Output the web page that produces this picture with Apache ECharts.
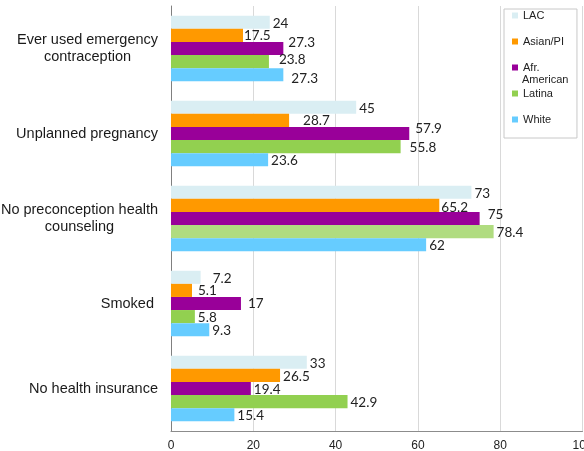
<!DOCTYPE html>
<html>
<head>
<meta charset="utf-8">
<script src="https://cdn.jsdelivr.net/npm/echarts@6/dist/echarts.min.js"></script>
<style>html,body{margin:0;padding:0;background:#fff;}#c{width:584px;height:451px;}</style>
</head>
<body>
<div id="c"></div>
<script>
const categories = ['Ever used emergency contraception', 'Unplanned pregnancy', 'No preconception health counseling', 'Smoked', 'No health insurance'];
const seriesNames = ['LAC', 'Asian/PI', 'Afr. American', 'Latina', 'White'];
const lac = [24, 45, 73, 7.2, 33];
const asianPI = [17.5, 28.7, 65.2, 5.1, 26.5];
const afrAmerican = [27.3, 57.9, 75, 17, 19.4];
const latina = [23.8, 55.8, 78.4, 5.8, 42.9];
const white = [27.3, 23.6, 62, 9.3, 15.4];
const xTicks = [0, 20, 40, 60, 80, 100];

const colors = ['#DAEEF3', '#FF9900', '#990099', '#92D050', '#66CCFF'];
const latinaAltColor = '#B0DC80';
// label nudges [dx, dy] per series index / category index (style only)
const defaultNudge = [0, 1];
const nudges = {
  '1-0': [-2, 0], '2-0': [2, -6], '3-0': [7, -2], '4-0': [5, 4],
  '1-1': [11, 0], '2-1': [3, -5], '3-1': [6, 1],
  '1-2': [-1, 2], '2-2': [5, -4],
  '0-3': [9, 1], '1-3': [3, 0], '2-3': [4, 0]
};

const valueSets = [lac, asianPI, afrAmerican, latina, white];
const series = valueSets.map((vals, si) => ({
  name: seriesNames[si],
  type: 'bar',
  barGap: '0%',
  barCategoryGap: '23%',
  itemStyle: { color: colors[si] },
  data: vals.map((v, ci) => {
    const d = { value: v };
    if (si === 3 && ci === 2) d.itemStyle = { color: latinaAltColor };
    d.label = { offset: nudges[si + '-' + ci] || defaultNudge };
    return d;
  }),
  label: {
    show: true, position: 'right', distance: 3,
    fontFamily: 'Lato', fontSize: 13.5, color: '#222'
  }
}));

const chart = echarts.init(document.getElementById('c'));
chart.setOption({
  animation: false,
  backgroundColor: '#fff',
  grid: { left: 171, right: 1.5, top: 6, bottom: 20, containLabel: false, outerBoundsMode: 'none' },
  legend: {
    orient: 'vertical', left: 504, top: 9,
    padding: [0, 13, 12, 8],
    itemGap: 13, itemWidth: 6, itemHeight: 6, icon: 'rect',
    borderColor: '#c8c8c8', borderWidth: 1, backgroundColor: '#fff',
    data: seriesNames,
    formatter: n => n === 'Afr. American' ? 'Afr.' : n,
    textStyle: { fontFamily: 'Liberation Sans', fontSize: 11, lineHeight: 13, color: '#222' }
  },
  graphic: [{
    type: 'text', left: 522, top: 74, z: 100,
    style: { text: 'American', fontFamily: 'Liberation Sans', fontSize: 11, fill: '#222' }
  }],
  xAxis: {
    type: 'value', min: xTicks[0], max: xTicks[xTicks.length - 1], interval: 20,
    axisLine: { show: true, lineStyle: { color: '#8c8c8c' } },
    axisTick: { show: false },
    splitLine: { lineStyle: { color: '#d9d9d9' } },
    axisLabel: { fontFamily: 'Liberation Sans', fontSize: 12, color: '#222', margin: 9 }
  },
  yAxis: {
    type: 'category', data: categories, inverse: true,
    axisLine: { show: true, lineStyle: { color: '#808080' } },
    axisTick: { show: false },
    axisLabel: {
      margin: 13, fontFamily: 'Liberation Sans', fontSize: 14.5, color: '#1a1a1a', lineHeight: 17.5,
      formatter: v => {
        if (v === 'Ever used emergency contraception') return '{e|Ever used emergency}\n{e|contraception}';
        if (v === 'No preconception health counseling') return '{n|No preconception health}\n{n|counseling}';
        if (v === 'Smoked') return 'Smoked ';
        return v;
      },
      rich: {
        e: { width: 141, align: 'center', fontFamily: 'Liberation Sans', fontSize: 14.5, lineHeight: 17.5, color: '#1a1a1a' },
        n: { width: 157, align: 'center', fontFamily: 'Liberation Sans', fontSize: 14.5, lineHeight: 17.5, color: '#1a1a1a' }
      }
    }
  },
  series: series
});
</script>
</body>
</html>
